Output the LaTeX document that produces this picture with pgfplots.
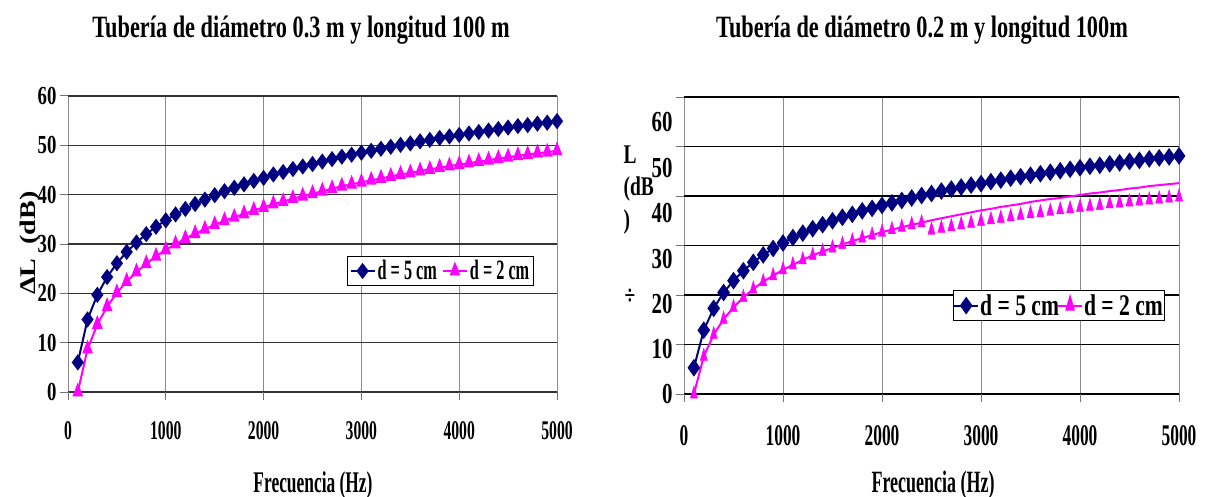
\documentclass[border=0pt]{standalone}
\usepackage{pgfplots}
\usepackage{pgfplotstable}
\pgfplotsset{compat=1.18}
\usepackage{fontspec}
\setmainfont{Liberation Serif}[FakeStretch=0.72]
\newfontfamily\cond{Liberation Serif}[FakeStretch=0.58]
\newfontfamily\plainserif{Liberation Serif}

\definecolor{navy}{RGB}{0,0,128}
\definecolor{fucsia}{RGB}{255,0,255}
\newcommand{\fs}[1]{\fontsize{#1}{#1}\selectfont\bfseries}
\newcommand{\fc}[1]{\cond\fontsize{#1}{#1}\selectfont\bfseries}
% etiqueta del eje y corrida hacia abajo, como en el original
\newcommand{\lbl}[2]{\raisebox{-#1pt}[\height][\depth]{#2}}

% tuberia 0.3 m: f, d = 5 cm, d = 2 cm
\pgfplotstableread{
f    b    p
100  6.0  0.0
200  14.7 8.7
300  19.7 13.7
400  23.3 17.3
500  26.1 20.1
600  28.4 22.4
700  30.3 24.3
800  32.0 26.0
900  33.5 27.5
1000 34.8 28.8
1100 36.0 30.0
1200 37.1 31.1
1300 38.1 32.1
1400 39.0 33.0
1500 39.9 33.9
1600 40.7 34.7
1700 41.4 35.4
1800 42.1 36.1
1900 42.8 36.8
2000 43.4 37.4
2100 44.1 38.1
2200 44.6 38.6
2300 45.2 39.2
2400 45.7 39.7
2500 46.2 40.2
2600 46.7 40.7
2700 47.2 41.2
2800 47.7 41.7
2900 48.1 42.1
3000 48.5 42.5
3100 48.9 42.9
3200 49.3 43.3
3300 49.7 43.7
3400 50.1 44.1
3500 50.4 44.4
3600 50.8 44.8
3700 51.1 45.1
3800 51.5 45.5
3900 51.8 45.8
4000 52.1 46.1
4100 52.4 46.4
4200 52.7 46.7
4300 53.0 47.0
4400 53.3 47.3
4500 53.6 47.6
4600 53.9 47.9
4700 54.1 48.1
4800 54.4 48.4
4900 54.6 48.6
5000 54.9 48.9
}\tuboA

% tuberia 0.2 m: f, d = 5 cm, d = 2 cm (linea), d = 2 cm (marcas)
\pgfplotstableread{
f    b    pl   pm
100  5.3  0.0  0.0
200  12.9 7.6  7.6
300  17.3 12.0 12.0
400  20.5 15.1 15.1
500  22.9 17.5 17.5
600  24.9 19.5 19.5
700  26.6 21.2 21.2
800  28.1 22.7 22.7
900  29.4 23.9 23.9
1000 30.5 25.1 25.1
1100 31.6 26.1 26.1
1200 32.5 27.1 27.1
1300 33.4 28.0 28.0
1400 34.2 28.8 28.8
1500 35.0 29.5 29.5
1600 35.7 30.2 30.2
1700 36.3 30.9 30.9
1800 37.0 31.5 31.5
1900 37.5 32.1 32.1
2000 38.1 32.7 32.7
2100 38.6 33.2 33.2
2200 39.1 33.7 33.7
2300 39.6 34.2 34.2
2400 40.1 34.6 34.6
2500 40.5 35.1 33.1
2600 41.0 35.5 33.5
2700 41.4 35.9 33.8
2800 41.8 36.3 34.2
2900 42.2 36.7 34.5
3000 42.5 37.1 34.9
3100 42.9 37.4 35.2
3200 43.2 37.8 35.5
3300 43.6 38.1 35.8
3400 43.9 38.4 36.1
3500 44.2 38.8 36.4
3600 44.5 39.1 36.6
3700 44.8 39.4 36.9
3800 45.1 39.6 37.2
3900 45.4 39.9 37.4
4000 45.7 40.2 37.7
4100 46.0 40.5 37.9
4200 46.2 40.7 38.1
4300 46.5 41.0 38.4
4400 46.7 41.2 38.6
4500 47.0 41.5 38.8
4600 47.2 41.7 39.0
4700 47.5 42.0 39.2
4800 47.7 42.2 39.4
4900 47.9 42.4 39.6
5000 48.1 42.6 39.8
}\tuboB

\pgfplotsset{
  panel/.style={
    scale only axis, anchor=south west,
    xmin=0, xmax=5000, ymin=0, ymax=60,
    xtick={0,1000,2000,3000,4000,5000},
    ytick={0,10,20,30,40,50,60},
    axis line style={draw=none},
    grid=major,
    x grid style={black!45, line width=1pt},
    tick pos=left, tick align=outside, major tick length=8pt,
    tick style={black!55, line width=1pt},
    xticklabel style={/pgf/number format/1000 sep={}},
    /pgf/number format/assume math mode=true,
    legend columns=2,
    legend image code/.code={\draw[mark repeat=2,mark phase=2,#1]
      plot coordinates {(0pt,0pt) (12pt,0pt) (24pt,0pt)};},
  },
  s5/.style={navy, line width=2pt, mark=diamond*, mark size=6.5pt,
    mark options={solid}},
  s2/.style={fucsia, line width=2pt, mark=triangle*, mark size=5pt,
    mark options={solid, yscale=1.35, xscale=0.9}},
}

\begin{document}
\begin{tikzpicture}
\path[use as bounding box] (0pt,0pt) rectangle (1208pt,-497pt);

\begin{axis}[panel, at={(68pt,-392pt)}, width=489pt, height=296pt,
  y grid style={black!80, line width=1.4pt},
  xticklabel style={font=\fc{27}, yshift=-18pt},
  yticklabel style={font=\fs{26}},
  legend style={at={(0.571,0.459)}, anchor=north west, font=\fc{28},
    draw=black, line width=0.8pt, inner sep=2pt,
    /tikz/every even column/.append style={column sep=3pt}}]
\addplot[s5] table[x=f, y=b] {\tuboA};
\addlegendentry{d = 5 cm}
\addplot[s2] table[x=f, y=p] {\tuboA};
\addlegendentry{d = 2 cm}
\end{axis}

\begin{axis}[panel, at={(684pt,-394pt)}, width=495pt, height=297pt,
  y grid style={black, line width=1.3pt},
  xticklabel style={font=\fc{30}, yshift=-20pt},
  yticklabels={\lbl{0}{0},\lbl{4.5}{10},\lbl{8.5}{20},\lbl{13}{30},
    \lbl{17}{40},\lbl{21}{50},\lbl{24.5}{60}},
  yticklabel style={font=\fs{29}},
  legend style={at={(0.543,0.350)}, anchor=north west, font=\fs{30},
    draw=black, line width=0.8pt, inner sep=0pt, inner ysep=3pt,
    nodes={inner sep=1pt},
    /tikz/every even column/.append style={column sep=-3pt}}]
\addplot[s5, mark size=7.2pt, mark options={xscale=0.95}] table[x=f, y=b] {\tuboB};
\addlegendentry{d = 5 cm}
\addplot[fucsia, line width=2pt, mark=none,
  legend image post style={mark=triangle*, mark size=5.5pt,
    mark options={solid, yscale=1.5, xscale=0.75}}]
  table[x=f, y=pl] {\tuboB};
\addlegendentry{d = 2 cm}
\addplot[fucsia, only marks, mark=triangle*, mark size=5.5pt,
  mark options={solid, yscale=1.5, xscale=0.75}, forget plot]
  table[x=f, y=pm] {\tuboB};
\end{axis}

% titulos y rotulos
\node[font=\fs{31}] at (301pt,-30pt) {Tubería de diámetro 0.3 m y longitud 100 m};
\node[font=\fs{31}] at (922pt,-30pt) {Tubería de diámetro 0.2 m y longitud 100m};
\node[font=\fc{30}] at (313pt,-485pt) {Frecuencia (Hz)};
\node[font=\fc{31}] at (933pt,-485pt) {Frecuencia (Hz)};
\node[rotate=90] at (30pt,-243pt)
  {\scalebox{1}[0.8]{\plainserif\fs{28}ΔL \ (dB)}};
\node[font=\fs{27}, anchor=west] at (620pt,-155pt) {L};
\node[font=\fs{27}, anchor=west] at (620pt,-189pt) {(dB};
\node[font=\fs{27}, anchor=west] at (620pt,-222pt) {)};
\node[font=\fs{27}] at (630pt,-297pt) {÷};
\end{tikzpicture}
\end{document}
